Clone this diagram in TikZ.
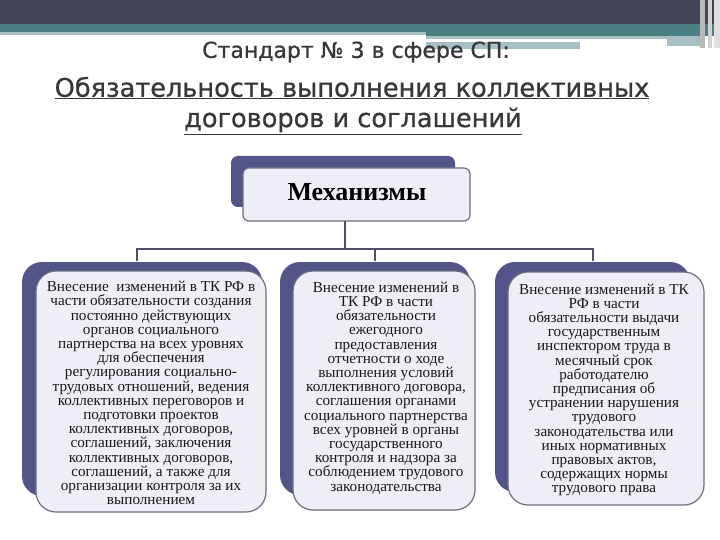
\documentclass[tikz,border=0pt]{standalone}
\usepackage{fontspec}
\setmainfont{Liberation Serif}
\newfontfamily\titlefont[FakeBold=0.8]{DejaVu Sans}
\definecolor{barDark}{HTML}{434456}
\definecolor{barTeal}{HTML}{4A7F84}
\definecolor{barLight}{HTML}{A5BFC3}
\definecolor{titleCol}{HTML}{38383C}
\definecolor{backPurple}{HTML}{535487}
\definecolor{frontFill}{HTML}{EEEEF6}
\definecolor{frontLine}{HTML}{6E6E80}
\definecolor{connCol}{HTML}{4E4E66}
\tikzset{
  backbox/.style={fill=backPurple, draw=none, rounded corners=20pt},
  frontbox/.style={fill=frontFill, draw=frontLine, line width=1.2pt, rounded corners=20pt},
  boxtext/.style={align=center, font=\fontsize{15.2}{14.2}\selectfont, text=black!90, inner sep=0pt},
  conn/.style={draw=connCol, line width=1.1pt},
  titletext/.style={text=titleCol, inner sep=0pt}
}
\begin{document}
\begin{tikzpicture}[x=1pt,y=-1pt]
\useasboundingbox (0,0) rectangle (720,540);
\fill[white] (0,0) rectangle (720,540);
% top bars
\fill[barDark] (0,0) rectangle (720,24);
\fill[barTeal] (0,24) rectangle (720,32);
\fill[barTeal] (426,24) rectangle (720,36);
\fill[barLight] (0,32) rectangle (426,35);
\fill[barLight] (426,36) rectangle (667,39);
\fill[barLight] (426,42) rectangle (580,49);
\fill[barLight] (667,36) rectangle (700,46);
\fill[gray!55] (700,0) rectangle (705,48);
\fill[gray!35] (708,0) rectangle (712,48);
\fill[gray!25] (714,0) rectangle (720,48);
% title
\node[titletext, font=\titlefont\fontsize{22}{24}\selectfont] (t1) at (356,52) {Стандарт № 3 в сфере СП:};
\node[titletext, font=\titlefont\fontsize{25.6}{28}\selectfont] (t2) at (352,88) {\underline{Обязательность выполнения коллективных}};
\node[titletext, font=\titlefont\fontsize{25.6}{28}\selectfont] (t3) at (353,121) {\underline{договоров и соглашений}};
% mechanisms box
\path[fill=backPurple, rounded corners=7pt] (231,156) rectangle (455,207);
\path[fill=frontFill, draw=frontLine, line width=1.2pt, rounded corners=6pt] (243,168) rectangle (470,221);
\node[font=\fontsize{26}{28}\selectfont\bfseries, inner sep=0pt] (mech) at (357,192) {Механизмы};
% connectors
\coordinate (mb) at (345,221);
\coordinate (bus) at (345,249);
\coordinate (b1top) at (137,261);
\coordinate (b2top) at (375,261);
\coordinate (b3top) at (593,261);
\draw[conn] (mb) -- (bus);
\draw[conn] (b1top) |- (bus) -| (b3top);
\draw[conn] (b2top) -- (b2top |- bus);
% box 1
\path[backbox] (22,262) rectangle (262,496);
\path[frontbox] (36,271) rectangle (266,512);
\node[boxtext] (box1) at (151,393) {Внесение \ изменений в ТК РФ в\\части обязательности создания\\постоянно действующих\\органов социального\\партнерства на всех уровнях\\для обеспечения\\регулирования социально-\\трудовых отношений, ведения\\коллективных переговоров и\\подготовки проектов\\коллективных договоров,\\соглашений, заключения\\коллективных договоров,\\соглашений, а также для\\организации контроля за их\\выполнением};
% box 2
\path[backbox] (280,262) rectangle (470,495);
\path[frontbox] (293,271) rectangle (475,510);
\node[boxtext] (box2) at (386,388) {Внесение изменений в\\ТК РФ в части\\обязательности\\ежегодного\\предоставления\\отчетности о ходе\\выполнения условий\\коллективного договора,\\соглашения органами\\социального партнерства\\всех уровней в органы\\государственного\\контроля и надзора за\\соблюдением трудового\\законодательства};
% box 3
\path[backbox] (495,262) rectangle (690,492);
\path[frontbox] (508,272) rectangle (704,505);
\node[boxtext] (box3) at (604,390) {Внесение изменений в ТК\\РФ в части\\обязательности выдачи\\государственным\\инспектором труда в\\месячный срок\\работодателю\\предписания об\\устранении нарушения\\трудового\\законодательства или\\иных нормативных\\правовых актов,\\содержащих нормы\\трудового права};
\end{tikzpicture}
\end{document}
